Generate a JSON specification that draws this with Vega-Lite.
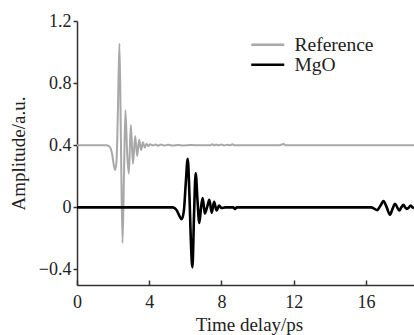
{
  "$schema": "https://vega.github.io/schema/vega-lite/v6.json",
  "autosize": "none",
  "width": 337,
  "height": 264,
  "padding": {"left": 77, "top": 21, "right": 0, "bottom": 50},
  "background": "white",
  "config": {
    "view": {"stroke": null},
    "font": "Liberation Serif",
    "axis": {
      "labelFont": "Liberation Serif",
      "titleFont": "Liberation Serif",
      "labelFontSize": 18,
      "titleFontSize": 19,
      "titleFontWeight": "normal",
      "labelColor": "#222",
      "titleColor": "#222",
      "domainColor": "#333",
      "tickColor": "#333",
      "domainWidth": 1.5,
      "tickWidth": 1.5,
      "grid": false
    },
    "legend": {"labelFont": "Liberation Serif"}
  },
  "datasets": {
    "ref": [
      {"t": 0, "a": 0.4}, {"t": 1.6, "a": 0.4}, {"t": 1.8, "a": 0.392}, {"t": 1.95, "a": 0.34},
      {"t": 2.04, "a": 0.27}, {"t": 2.11, "a": 0.24}, {"t": 2.19, "a": 0.3}, {"t": 2.27, "a": 0.65},
      {"t": 2.35, "a": 1.055}, {"t": 2.43, "a": 0.45}, {"t": 2.52, "a": -0.23}, {"t": 2.6, "a": 0.2},
      {"t": 2.68, "a": 0.625}, {"t": 2.78, "a": 0.34}, {"t": 2.87, "a": 0.217}, {"t": 2.98, "a": 0.53},
      {"t": 3.1, "a": 0.28}, {"t": 3.22, "a": 0.46}, {"t": 3.33, "a": 0.33}, {"t": 3.44, "a": 0.435},
      {"t": 3.55, "a": 0.37}, {"t": 3.65, "a": 0.42}, {"t": 3.75, "a": 0.385}, {"t": 3.85, "a": 0.41},
      {"t": 3.95, "a": 0.395}, {"t": 4.05, "a": 0.406}, {"t": 4.2, "a": 0.398}, {"t": 4.35, "a": 0.405},
      {"t": 4.5, "a": 0.397}, {"t": 4.65, "a": 0.404}, {"t": 4.85, "a": 0.398}, {"t": 5.05, "a": 0.403},
      {"t": 5.3, "a": 0.398}, {"t": 5.6, "a": 0.402}, {"t": 5.9, "a": 0.399}, {"t": 6.3, "a": 0.401},
      {"t": 7.0, "a": 0.4}, {"t": 7.4, "a": 0.4}, {"t": 7.5, "a": 0.407}, {"t": 7.6, "a": 0.398},
      {"t": 7.7, "a": 0.405}, {"t": 7.8, "a": 0.4}, {"t": 8.0, "a": 0.404}, {"t": 8.15, "a": 0.399},
      {"t": 8.3, "a": 0.403}, {"t": 8.5, "a": 0.4}, {"t": 8.6, "a": 0.406}, {"t": 8.75, "a": 0.4},
      {"t": 9.5, "a": 0.4}, {"t": 10.5, "a": 0.4}, {"t": 11.2, "a": 0.4}, {"t": 11.35, "a": 0.405},
      {"t": 11.45, "a": 0.408}, {"t": 11.55, "a": 0.4}, {"t": 12.5, "a": 0.4}, {"t": 15, "a": 0.4},
      {"t": 18.66, "a": 0.4}
    ],
    "mgo": [
      {"t": 0, "a": 0}, {"t": 5.3, "a": 0}, {"t": 5.5, "a": -0.015}, {"t": 5.67, "a": -0.055},
      {"t": 5.8, "a": -0.077}, {"t": 5.92, "a": -0.02}, {"t": 6.02, "a": 0.15}, {"t": 6.13, "a": 0.312},
      {"t": 6.22, "a": 0.1}, {"t": 6.3, "a": -0.2}, {"t": 6.39, "a": -0.387}, {"t": 6.48, "a": -0.05},
      {"t": 6.57, "a": 0.22}, {"t": 6.67, "a": 0.05}, {"t": 6.77, "a": -0.1}, {"t": 6.87, "a": 0.0},
      {"t": 6.96, "a": 0.06}, {"t": 7.08, "a": -0.04}, {"t": 7.2, "a": 0.0}, {"t": 7.33, "a": 0.048},
      {"t": 7.46, "a": -0.035}, {"t": 7.59, "a": 0.035}, {"t": 7.73, "a": -0.02}, {"t": 7.87, "a": 0.012},
      {"t": 8.0, "a": -0.004}, {"t": 8.2, "a": 0.0}, {"t": 8.65, "a": 0.0}, {"t": 8.75, "a": -0.01},
      {"t": 8.85, "a": 0.0}, {"t": 12, "a": 0.0}, {"t": 16.3, "a": 0.0}, {"t": 16.45, "a": -0.008},
      {"t": 16.62, "a": -0.018}, {"t": 16.8, "a": 0.01}, {"t": 16.97, "a": 0.04}, {"t": 17.15, "a": 0.0},
      {"t": 17.33, "a": -0.048}, {"t": 17.47, "a": -0.01}, {"t": 17.61, "a": 0.023}, {"t": 17.73, "a": 0.0},
      {"t": 17.85, "a": -0.02}, {"t": 17.96, "a": 0.0}, {"t": 18.07, "a": 0.017}, {"t": 18.17, "a": 0.0},
      {"t": 18.27, "a": -0.01}, {"t": 18.38, "a": 0.0}, {"t": 18.48, "a": 0.012}, {"t": 18.58, "a": 0.0},
      {"t": 18.66, "a": -0.004}
    ]
  },
  "layer": [
    {
      "mark": {"type": "rule", "color": "#333", "strokeWidth": 1.5},
      "encoding": {"y": {"datum": 1.2, "type": "quantitative"}}
    },
    {
      "data": {"name": "ref"},
      "transform": [{"calculate": "'Reference'", "as": "series"}],
      "mark": {"type": "line", "interpolate": "monotone", "strokeWidth": 2, "clip": true},
      "encoding": {
        "x": {"field": "t", "type": "quantitative"},
        "y": {"field": "a", "type": "quantitative"},
        "color": {"field": "series", "type": "nominal"}
      }
    },
    {
      "data": {"name": "mgo"},
      "transform": [{"calculate": "'MgO'", "as": "series"}],
      "mark": {"type": "line", "interpolate": "monotone", "strokeWidth": 2.6, "clip": true},
      "encoding": {
        "x": {
          "field": "t", "type": "quantitative",
          "scale": {"domain": [0, 18.66], "nice": false, "zero": false},
          "axis": {
            "values": [0, 4, 8, 12, 16],
            "title": "Time delay/ps",
            "tickSize": -5,
            "labelPadding": 13,
            "titleX": 172,
            "titleY": 45,
            "titleBaseline": "alphabetic",
            "titleAnchor": null,
            "labelFlush": false
          }
        },
        "y": {
          "field": "a", "type": "quantitative",
          "scale": {"domain": [-0.5, 1.2], "nice": false, "zero": false},
          "axis": {
            "values": [-0.4, 0, 0.4, 0.8, 1.2],
            "labelExpr": "datum.value == 0 ? '0' : replace(format(datum.value, '.1f'), '-', '\u2212')",
            "title": "Amplitude/a.u.",
            "tickSize": 4,
            "labelPadding": 2,
            "titleX": -59,
            "titleY": 132,
            "titleBaseline": "middle",
            "titleAnchor": null
          }
        },
        "color": {
          "field": "series", "type": "nominal",
          "scale": {"domain": ["Reference", "MgO"], "range": ["#a8a8a8", "#000000"]},
          "legend": {
            "title": null,
            "orient": "none",
            "legendX": 192,
            "legendY": 14,
            "symbolType": "M-5,0H1",
            "symbolSize": 121,
            "symbolStrokeWidth": 2.5,
            "labelFontSize": 19.5,
            "labelColor": "#222",
            "labelOffset": 6,
            "rowPadding": -2,
            "padding": 0
          }
        }
      }
    }
  ]
}
